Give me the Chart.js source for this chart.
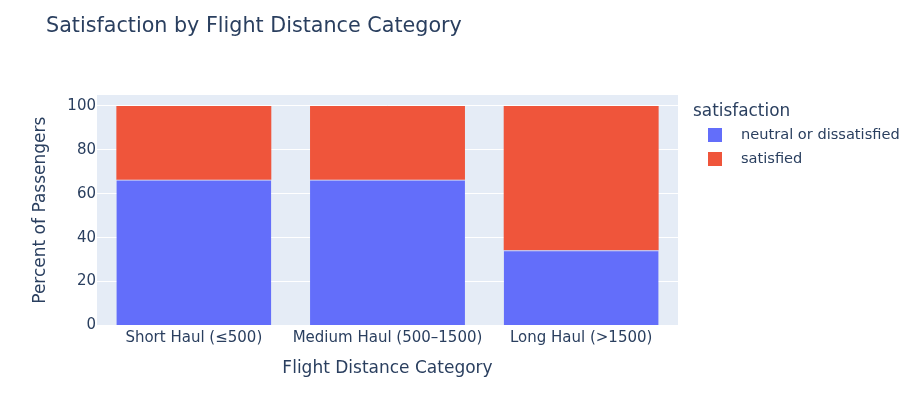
<!DOCTYPE html>
<html>
<head>
<meta charset="utf-8">
<script src="https://cdn.jsdelivr.net/npm/chart.js@4"></script>
<style>
  html, body { margin: 0; padding: 0; background: #fff; }
  #wrap { width: 920px; height: 410px; }
</style>
</head>
<body>
<div id="wrap"><canvas id="satChart" width="920" height="410"></canvas></div>
<script>
// Data
const categories = ['Short Haul (≤500)', 'Medium Haul (500–1500)', 'Long Haul (>1500)'];
const neutralPct = [66.4, 66.4, 34.2];
const satisfiedPct = [33.6, 33.6, 65.8];
const yTicks = [0, 20, 40, 60, 80, 100];

const FONT = "'DejaVu Sans', Verdana, sans-serif";
const TEXT = '#2a3f5f';

// plot background + title + legend (drawn around the fixed chart area)
const plotlyLook = {
    id: 'plotlyLook',
    beforeDraw(chart) {
        const { ctx, chartArea } = chart;
        ctx.save();
        ctx.fillStyle = '#E5ECF6';
        ctx.fillRect(chartArea.left, chartArea.top, chartArea.right - chartArea.left, chartArea.bottom - chartArea.top);
        ctx.restore();
    },
    afterDraw(chart) {
        const { ctx } = chart;
        ctx.save();
        ctx.fillStyle = TEXT;
        ctx.textBaseline = 'middle';
        ctx.textAlign = 'left';
        ctx.font = '20.7px ' + FONT;
        ctx.fillText('Satisfaction by Flight Distance Category', 46, 27);

        ctx.font = '16.9px ' + FONT;
        ctx.fillText('satisfaction', 693, 112);

        ctx.font = '14.6px ' + FONT;
        chart.data.datasets.forEach((ds, i) => {
            const y = 135 + i * 24;
            ctx.fillStyle = ds.backgroundColor;
            ctx.fillRect(708, y - 7, 14, 14);
            ctx.fillStyle = TEXT;
            ctx.fillText(ds.label, 741, y);
        });
        ctx.restore();
    }
};

new Chart(document.getElementById('satChart'), {
    type: 'bar',
    data: {
        labels: categories,
        datasets: [
            {
                label: 'neutral or dissatisfied',
                data: neutralPct,
                backgroundColor: '#636EFA',
                borderColor: '#B3B9F5',
                borderWidth: { top: 1 },
                borderSkipped: false
            },
            {
                label: 'satisfied',
                data: satisfiedPct,
                backgroundColor: '#EF553B',
                borderColor: '#EF553B',
                borderWidth: 0
            }
        ]
    },
    options: {
        responsive: false,
        animation: false,
        layout: { padding: { left: 26, right: 242, top: 95, bottom: 27 } },
        datasets: { bar: { barPercentage: 0.8, categoryPercentage: 1.0 } },
        scales: {
            x: {
                stacked: true,
                grid: { display: false, drawTicks: false },
                border: { display: false },
                ticks: { color: TEXT, font: { family: FONT, size: 15 }, padding: 4, maxRotation: 0 },
                title: { display: true, text: 'Flight Distance Category', color: TEXT, font: { family: FONT, size: 17 } },
                afterFit(scale) { scale.height = 57.6; }
            },
            y: {
                stacked: true,
                min: 0,
                max: 105,
                afterBuildTicks(scale) { scale.ticks = yTicks.map(v => ({ value: v })); },
                grid: { color: '#ffffff', lineWidth: 1, drawTicks: false },
                border: { display: false },
                ticks: { color: TEXT, font: { family: FONT, size: 15 }, padding: 1 },
                title: { display: true, text: 'Percent of Passengers', color: TEXT, font: { family: FONT, size: 17 } },
                afterFit(scale) { scale.width = 71; }
            }
        },
        plugins: {
            legend: { display: false },
            title: { display: false },
            tooltip: { enabled: false }
        }
    },
    plugins: [plotlyLook]
});
</script>
</body>
</html>
